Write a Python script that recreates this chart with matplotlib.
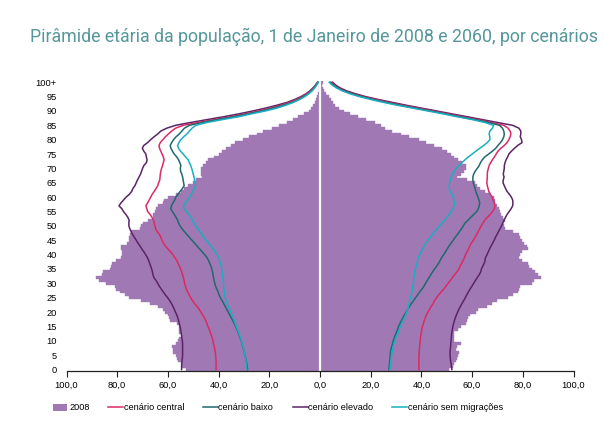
import numpy as np
import matplotlib
matplotlib.use("Agg")
import matplotlib.pyplot as plt
from matplotlib import font_manager
from matplotlib.patches import Rectangle
from matplotlib.lines import Line2D


def pick_font(names):
    for n in names:
        try:
            font_manager.findfont(font_manager.FontProperties(family=n),
                                  fallback_to_default=False)
            return n
        except Exception:
            pass
    return 'DejaVu Sans'


small_font = pick_font(['Liberation Sans Narrow', 'Liberation Sans'])
title_font = pick_font(['Roboto', 'Liberation Sans'])
plt.rcParams['font.family'] = [small_font, 'DejaVu Sans']

ages = np.arange(101)

# 2008 population by single age (thousands), left = men, right = women
male_2008 = [53, 54.5, 55, 56, 56.5, 57, 58, 58, 58.5, 57,
             56, 55.5, 55, 55.5, 55.5, 55.5, 56.5, 59, 59.5, 60,
             61, 62, 64, 67, 70.5, 75.5, 77, 79, 80.5, 81,
             84.5, 87, 88.5, 86, 85.5, 83, 82.5, 82, 80.5, 78.5,
             78, 78, 78.5, 78.5, 76, 75.5, 75.5, 75, 74.5, 71,
             70.5, 70, 68, 66, 66, 65, 64.5, 64, 62, 61.5,
             60, 57, 55, 53.5, 52, 50, 49, 46.5, 47, 47,
             47, 46, 45, 44, 42, 40, 38.5, 37, 35, 33.5,
             30.5, 28, 25, 22.5, 19, 16, 13, 10.5, 8.5, 6.5,
             4.5, 3.5, 2.7, 2, 1.5, 1.0, 0.7, 0.5, 0.3, 0.2, 0.4]
female_2008 = [51, 52.5, 53, 53.5, 54, 54.5, 55, 53.5, 54, 55.5,
               53, 53, 53, 53, 54.5, 55.5, 57.5, 58, 58.5, 59,
               61.5, 62.5, 66, 68, 70, 74, 76, 78, 78.5, 79,
               83.5, 84.5, 87, 86, 85, 83.5, 82.5, 82, 79.5, 78.5,
               79, 79.5, 82, 81.5, 80.5, 79.5, 79, 78.5, 76, 73,
               72.5, 72, 73, 72, 71.5, 71, 70.5, 70, 69, 69,
               68.5, 67, 65, 63, 62, 61, 58, 54, 55.5, 57,
               57.5, 57.5, 56, 54.5, 53, 51.5, 50, 48, 45, 42,
               39, 35, 32, 28.5, 25.5, 24, 21.5, 18, 15, 12,
               9.5, 7.5, 6, 5, 4.5, 3.7, 2.5, 1.5, 1, 0.7, 1.0]

# 2060 scenarios, men
m_central = [41, 41, 41, 41, 41.1, 41.2, 41.3, 41.5, 41.7, 42,
             42.2, 42.5, 42.9, 43.3, 43.7, 44.2, 44.6, 45, 45.6, 46.3,
             47, 47.7, 48.5, 49.5, 50.3, 51, 51.6, 52.2, 52.7, 53.1,
             53.4, 53.6, 53.9, 54.2, 54.6, 55, 55.5, 56, 56.5, 57.3,
             58, 59, 60, 61, 61.8, 62.3, 62.8, 63.3, 64.2, 64.8,
             65.1, 65.4, 65.7, 66.3, 67, 68, 68.3, 68.7, 68, 67.4,
             66.8, 66.2, 65.4, 64.7, 64, 63.7, 63.2, 63.1, 63, 62.8,
             62.5, 62.1, 61.8, 61.5, 61.8, 62.3, 62.8, 63.3, 63.5, 63,
             62, 61, 59.8, 58.5, 57, 54, 48, 41.5, 35, 29.5,
             24, 19.5, 15.5, 12, 9.2, 7, 5.2, 3.7, 2.6, 1.7, 0.9]
m_baixo = [28.6, 28.7, 28.9, 29.1, 29.3, 29.6, 29.9, 30.2, 30.5, 30.8,
           31.1, 31.5, 31.9, 32.3, 32.8, 33.3, 33.8, 34.4, 35, 35.6,
           36.2, 36.8, 37.4, 38, 38.6, 39.3, 39.8, 40.2, 40.7, 41.2,
           41.5, 41.8, 42, 42.2, 42.4, 42.7, 43, 43.5, 44, 44.6,
           45.5, 46.5, 47.5, 48.5, 49.5, 50.5, 51.5, 52.5, 53.5, 54.4,
           55.2, 55.8, 56.2, 56.8, 57.5, 58.2, 58.9, 58.6, 58, 57.3,
           56.9, 56, 55.2, 54.3, 53.6, 53.8, 54, 54.2, 54.5, 55,
           55.1, 54.9, 55.3, 55.8, 56.5, 57.5, 58.2, 58.8, 59.1, 58.5,
           57.8, 56.8, 55.5, 54.5, 53.5, 51.5, 46.5, 40.5, 34, 28.5,
           23, 18.5, 14.5, 11, 8.5, 6.5, 4.8, 3.4, 2.3, 1.5, 0.8]
m_elevado = [54.6, 54.6, 54.5, 54.4, 54.3, 54.2, 54.2, 54.2, 54.2, 54.2,
             54.3, 54.5, 54.6, 54.8, 55, 55.2, 55.5, 55.8, 56.1, 56.5,
             57, 57.5, 58, 58.6, 59.3, 60.1, 61, 61.8, 62.6, 63.4,
             64, 64.7, 65.5, 65.9, 66.1, 66.4, 66.8, 67.2, 67.6, 68.1,
             68.8, 69.5, 70.3, 71, 71.8, 72.5, 73.2, 73.9, 74.5, 75,
             75.4, 75.4, 75.3, 75.8, 76.6, 77.5, 78.2, 79.3, 78.5, 77.5,
             76.5, 75.2, 74.3, 73.8, 73, 72.5, 72, 71.4, 70.8, 70.4,
             70, 69.5, 68.5, 68.2, 68.5, 68.7, 69.5, 70.1, 69.5, 68,
             66.8, 65.5, 64, 62.8, 60.5, 57, 51, 44.5, 38, 32,
             26.5, 21.5, 17, 13, 10, 7.5, 5.5, 4, 2.8, 1.8, 1.0]
m_sem_migr = [28.9, 29, 29.1, 29.2, 29.4, 29.6, 29.9, 30.1, 30.4, 30.7,
              31, 31.3, 31.7, 32.1, 32.6, 33, 33.4, 33.8, 34.2, 34.7,
              35.2, 35.7, 36.2, 36.7, 37.1, 37.4, 37.6, 37.7, 37.9, 38,
              38.1, 38.2, 38.3, 38.4, 38.6, 38.8, 39, 39.3, 39.6, 40,
              40.6, 41.3, 42.1, 43, 44, 45, 45.8, 46.6, 47.4, 48.2,
              49, 49.8, 50.4, 51, 51.8, 52.7, 53.7, 53.8, 53.2, 52.2,
              51.5, 50.8, 50.2, 49.6, 49, 49.3, 49.5, 49.7, 50, 50.3,
              50.6, 51, 51.5, 52, 53, 54, 55, 55.8, 56.2, 55.6,
              54.9, 53.8, 52.5, 51.5, 50.5, 49, 44.5, 38.5, 32, 27,
              21.5, 17, 13.5, 10.5, 8, 6, 4.4, 3.1, 2.1, 1.3, 0.7]

# 2060 scenarios, women
f_central = [39, 39, 39, 39, 39, 39.1, 39.1, 39.2, 39.3, 39.4,
             39.5, 39.6, 39.8, 40, 40.2, 40.4, 40.8, 41.1, 41.5, 42,
             42.6, 43.2, 43.9, 44.6, 45.2, 46, 46.8, 47.8, 48.8, 49.7,
             50.5, 51.4, 52.2, 53.1, 54, 54.8, 55.3, 55.9, 56.5, 57,
             57.4, 58, 58.6, 59.1, 59.7, 60.5, 61.2, 61.8, 62.4, 63,
             63.6, 64.3, 65, 66, 67.2, 68, 68.8, 69, 68.8, 68.3,
             67.9, 67.2, 66.6, 66.3, 66, 65.8, 65.9, 66, 66, 66.1,
             66.4, 66.7, 67.3, 68, 68.8, 69.5, 70.2, 71.3, 72.7, 73.8,
             74.5, 75, 75.3, 75, 74.2, 72.5, 67.5, 62, 56, 50.5,
             44.5, 38.5, 32.5, 27, 22, 17, 13, 9.5, 7.2, 5.6, 4.4]
f_baixo = [27.2, 27.3, 27.4, 27.5, 27.6, 27.7, 27.8, 28, 28.3, 28.6,
           28.9, 29.3, 29.7, 30.2, 30.6, 31, 31.5, 32.1, 32.7, 33.3,
           34, 34.6, 35.3, 36.1, 36.9, 37.7, 38.5, 39.3, 40.2, 41,
           41.6, 42.3, 43, 43.7, 44.4, 45.2, 46, 46.8, 47.4, 48,
           48.8, 49.5, 50.2, 50.9, 51.7, 52.5, 53.3, 54.2, 55, 55.8,
           56.5, 57.2, 58.4, 59.5, 60.7, 61.8, 62.5, 62.8, 63, 62.7,
           62.3, 61.9, 61.4, 61.2, 60.8, 60.5, 60.3, 60.3, 60.6, 61.2,
           62, 62.8, 63.3, 64, 65, 66.5, 68, 69.3, 70.2, 71.2,
           72, 72.5, 72.7, 72.5, 72, 70.8, 66.5, 61, 55, 49.5,
           43.5, 37.5, 31.5, 26, 21, 16.5, 12.5, 9.2, 7, 5.3, 4]
f_elevado = [52, 51.9, 51.7, 51.5, 51.4, 51.3, 51.3, 51.4, 51.5, 51.6,
             51.7, 51.8, 51.9, 52, 52.2, 52.4, 52.7, 53, 53.4, 53.8,
             54.3, 54.8, 55.4, 56, 56.7, 57.3, 57.9, 58.5, 59.2, 59.9,
             60.6, 61.3, 62, 62.8, 63.4, 63.7, 64.2, 64.8, 65.1, 65.3,
             65.9, 66.4, 66.9, 67.5, 68.1, 68.7, 69.2, 69.8, 70.4, 71,
             71.6, 72.1, 72.6, 73.2, 73.8, 74.6, 75.4, 76, 76.1, 76,
             75.5, 74.7, 73.8, 73.2, 72.7, 72.2, 72.3, 72.6, 72.3, 72.5,
             72.7, 72.7, 73, 73.4, 74, 74.5, 75.5, 76.7, 78, 79.7,
             79.5, 79, 79.2, 79.2, 78.5, 76, 70, 64, 58, 52,
             46, 40, 34, 28.5, 23, 18, 14, 10.5, 8, 6.2, 5]
f_sem_migr = [27.6, 27.7, 27.8, 27.9, 28.1, 28.2, 28.4, 28.6, 28.8, 29.2,
              29.5, 29.9, 30.4, 30.9, 31.3, 31.7, 32.2, 32.8, 33.3, 33.8,
              34.2, 34.6, 34.9, 35.2, 35.4, 35.7, 36, 36.3, 36.5, 36.6,
              36.8, 36.9, 37.1, 37.3, 37.4, 37.6, 38, 38.3, 38.5, 38.8,
              39.3, 39.9, 40.5, 41.2, 41.8, 42.6, 43.5, 44.3, 45.3, 46.3,
              47.2, 48.1, 49.2, 50.1, 51, 51.8, 52.5, 52.9, 53.1, 52.8,
              52.5, 52, 51.3, 51, 51, 51.1, 51.4, 51.8, 52.3, 53,
              53.8, 54.8, 56, 57.2, 58.5, 60, 61.5, 63, 64.6, 66,
              67, 67, 66.7, 67, 68, 68.5, 65, 60, 54, 48.5,
              42.5, 36.5, 30.5, 25, 20, 15.5, 11.8, 8.8, 6.5, 4.8, 3.6]

x_ticks = [-100, -80, -60, -40, -20, 0, 20, 40, 60, 80, 100]
x_labels = ['100,0', '80,0', '60,0', '40,0', '20,0', '0,0',
            '20,0', '40,0', '60,0', '80,0', '100,0']
y_ticks = list(range(0, 101, 5))
y_labels = [str(a) for a in range(0, 100, 5)] + ['100+']

legend_labels = ['2008', 'cenário central', 'cenário baixo',
                 'cenário elevado', 'cenário sem migrações']

bar_color = '#A078B4'
c_central = '#DC2A64'
c_baixo = '#1F6A6E'
c_elevado = '#5C2467'
c_sem = '#19AFC0'

W, H = 605, 432
fig = plt.figure(figsize=(W / 100, H / 100), dpi=100)
ax = fig.add_axes([66.5 / W, 1 - 371 / H, 507 / W, 290.2 / H])

ax.barh(ages, -np.array(male_2008), height=1.0, color=bar_color,
        edgecolor=bar_color, linewidth=0.3)
ax.barh(ages, female_2008, height=1.0, color=bar_color,
        edgecolor=bar_color, linewidth=0.3)
ax.axvline(0, color='white', lw=1.6)

lw = 1.1
for left, right, col in [(m_elevado, f_elevado, c_elevado),
                         (m_central, f_central, c_central),
                         (m_baixo, f_baixo, c_baixo),
                         (m_sem_migr, f_sem_migr, c_sem)]:
    ax.plot(-np.array(left), ages, color=col, lw=lw)
    ax.plot(right, ages, color=col, lw=lw)

ax.set_xlim(-100, 100)
ax.set_ylim(-0.5, 100.5)
ax.set_xticks(x_ticks)
ax.set_xticklabels(x_labels)
ax.set_yticks(y_ticks)
ax.set_yticklabels(y_labels)
for s in ['top', 'right', 'left']:
    ax.spines[s].set_visible(False)
ax.spines['bottom'].set_linewidth(0.9)
ax.spines['bottom'].set_color('#222222')

title = fig.text(314 / W, 1 - 37 / H,
                 'Pirâmide etária da população, 1 de Janeiro de 2008 e 2060, por cenários',
                 ha='center', va='center', fontsize=11, color='#55979A',
                 family=[title_font, 'DejaVu Sans'])

# size the small texts so their widths match the reference
fig.canvas.draw()
r = fig.canvas.get_renderer()
probe = fig.text(0, 0, '100,0', fontsize=8)
w = probe.get_window_extent(r).width
tick_size = 8 * 23.0 / w
probe.set_text('cenário sem migrações')
w = probe.get_window_extent(r).width
leg_size = 8 * 95.0 / w
probe.remove()
tw = title.get_window_extent(r).width
title.set_fontsize(11 * 566.0 / tw)

ax.tick_params(axis='x', direction='out', length=4, width=0.8,
               labelsize=tick_size, pad=3, color='#222222')
ax.tick_params(axis='y', length=0, labelsize=tick_size, pad=7)

# legend drawn by hand at the reference positions
y_leg = 1 - 407 / H
fig.patches.append(Rectangle((53 / W, y_leg - 3.5 / H), 14 / W, 7 / H,
                             transform=fig.transFigure, facecolor=bar_color,
                             edgecolor='none'))
fig.text(69 / W, y_leg, legend_labels[0], fontsize=leg_size,
         ha='left', va='center')
line_starts = [108, 203, 293, 392]
for x0, col, lab in zip(line_starts, [c_central, c_baixo, c_elevado, c_sem],
                        legend_labels[1:]):
    fig.lines.append(Line2D([x0 / W, (x0 + 15) / W], [y_leg, y_leg],
                            transform=fig.transFigure, color=col, lw=lw))
    fig.text((x0 + 15.5) / W, y_leg, lab, fontsize=leg_size,
             ha='left', va='center')

fig.savefig('out.png', dpi=100)
